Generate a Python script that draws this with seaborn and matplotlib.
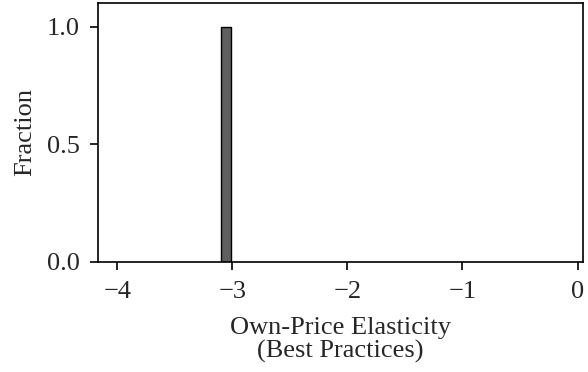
import matplotlib
matplotlib.use("Agg")
import matplotlib.pyplot as plt
import seaborn as sns

# estimated own-price elasticity (best practices), one market
elasticities = [-3.06]
x_ticks = [-4, -3, -2, -1, 0]
y_ticks = [0.0, 0.5, 1.0]

sns.set_style("ticks")
plt.rcParams["font.family"] = ["Liberation Serif", "DejaVu Serif"]

fig, ax = plt.subplots(figsize=(5.88, 3.72), dpi=100)
sns.histplot(x=elasticities, bins=1, binrange=(-3.10, -3.015), stat="probability",
             color="#5f5f5f", edgecolor="black", linewidth=1.0, alpha=1.0, ax=ax)

ax.set_xlim(-4.165, 0.05)
ax.set_ylim(0, 1.1)
ax.set_xticks(x_ticks)
ax.set_yticks(y_ticks)
ax.set_yticklabels([f"{v:.1f}" for v in y_ticks])
ax.set_xlabel("Own-Price Elasticity\n(Best Practices)", fontsize=19, labelpad=10,
              linespacing=1.05)
ax.set_ylabel("Fraction", fontsize=19, labelpad=8)
ax.tick_params(labelsize=19, length=6, width=1.2, color="black")
ax.tick_params(axis="x", pad=8)
ax.tick_params(axis="y", pad=7)
for s in ax.spines.values():
    s.set_linewidth(1.2)
    s.set_color("black")

fig.subplots_adjust(left=0.167, right=0.992, top=0.992, bottom=0.296)
fig.savefig("out.png", dpi=100)
